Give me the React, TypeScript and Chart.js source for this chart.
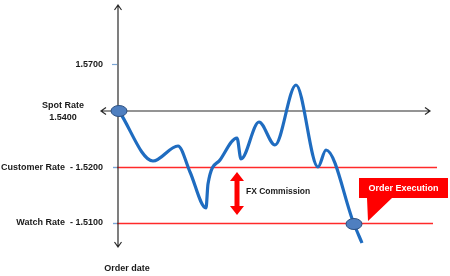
import React, { useEffect, useRef } from "react";
import { Chart, registerables } from "chart.js";
Chart.register(...registerables);

// Diagram units: x = time steps from order date, y = relative rate level
const timeSteps = [1, 35, 60, 72, 88, 90, 102, 119, 123, 141, 157, 178, 200, 208, 236, 244];
const rateLevels = [134, 84, 99, 73, 37, 61, 85, 107, 86, 123, 100, 160, 78, 95, 21, 2];

const tickLabels = ["1.5700", "Spot Rate|1.5400", "Customer Rate  - 1.5200", "Watch Rate  - 1.5100"];
const tickLevels = [181, 134, 77.5, 22.5];
const spotIndex = 0;
const executionIndex = 14;
const xAxisTitle = "Order date";
const commissionLabel = "FX Commission";
const executionLabel = "Order Execution";

const FONT = "'Liberation Sans', Arial, sans-serif";

const diagramPlugin = {
  id: "diagram",
  beforeDatasetsDraw(chart: any) {
    const { ctx } = chart;
    const xs = chart.scales.x;
    const ys = chart.scales.y;
    const x0 = xs.getPixelForValue(0);
    ctx.save();
    // red rate lines with short blue ticks
    const lineEnds = [319, 315];
    [2, 3].forEach((k, i) => {
      const y = Math.round(ys.getPixelForValue(tickLevels[k])) + 0.5;
      ctx.strokeStyle = "#ff2a2a";
      ctx.lineWidth = 1.4;
      ctx.beginPath();
      ctx.moveTo(x0 - 1, y);
      ctx.lineTo(xs.getPixelForValue(lineEnds[i]), y);
      ctx.stroke();
      ctx.strokeStyle = "#7aa6d6";
      ctx.beginPath();
      ctx.moveTo(xs.getPixelForValue(-5), y);
      ctx.lineTo(x0 - 1, y);
      ctx.stroke();
    });
    // 1.5700 tick
    {
      const y = Math.round(ys.getPixelForValue(tickLevels[0])) + 0.5;
      ctx.strokeStyle = "#7aa6d6";
      ctx.lineWidth = 1.2;
      ctx.beginPath();
      ctx.moveTo(xs.getPixelForValue(-6), y);
      ctx.lineTo(x0 - 1, y);
      ctx.stroke();
    }
    // axes
    ctx.strokeStyle = "#2a2a2a";
    ctx.lineWidth = 1.2;
    const yTop = ys.getPixelForValue(240);
    const yBot = ys.getPixelForValue(-2);
    const yh = ys.getPixelForValue(tickLevels[1]);
    const xL = xs.getPixelForValue(-17);
    const xR = xs.getPixelForValue(312);
    ctx.beginPath();
    ctx.moveTo(x0, yTop);
    ctx.lineTo(x0, yBot);
    ctx.moveTo(xL, yh);
    ctx.lineTo(xR, yh);
    // arrow heads (open chevrons)
    const a = 5, b = 3.5;
    ctx.moveTo(x0 - b, yTop + a); ctx.lineTo(x0, yTop); ctx.lineTo(x0 + b, yTop + a);
    ctx.moveTo(x0 - b, yBot - a); ctx.lineTo(x0, yBot); ctx.lineTo(x0 + b, yBot - a);
    ctx.moveTo(xL + a, yh - b); ctx.lineTo(xL, yh); ctx.lineTo(xL + a, yh + b);
    ctx.moveTo(xR - a, yh - b); ctx.lineTo(xR, yh); ctx.lineTo(xR - a, yh + b);
    ctx.stroke();
    ctx.restore();
  },
  afterDatasetsDraw(chart: any) {
    const { ctx } = chart;
    const xs = chart.scales.x;
    const ys = chart.scales.y;
    const x0 = xs.getPixelForValue(0);
    const meta = chart.getDatasetMeta(0);
    ctx.save();
    // ellipses at spot & execution
    [spotIndex, executionIndex].forEach((i) => {
      const p = meta.data[i];
      ctx.beginPath();
      ctx.ellipse(p.x, p.y, 8, 5.5, 0, 0, Math.PI * 2);
      ctx.fillStyle = "#4f7fc0";
      ctx.fill();
      ctx.strokeStyle = "#2d5080";
      ctx.lineWidth = 1;
      ctx.stroke();
    });
    // tick labels
    ctx.fillStyle = "#1a1a1a";
    ctx.textBaseline = "middle";
    ctx.font = `bold 9px ${FONT}`;
    tickLabels.forEach((lab, k) => {
      const y = ys.getPixelForValue(tickLevels[k]);
      if (lab.includes("|")) {
        const [l1, l2] = lab.split("|");
        ctx.textAlign = "center";
        ctx.fillText(l1, x0 - 55, y - 5);
        ctx.fillText(l2, x0 - 55, y + 7);
      } else {
        ctx.textAlign = "right";
        ctx.fillText(lab, x0 - 15, y + 0.5);
      }
    });
    ctx.textAlign = "center";
    ctx.fillText(xAxisTitle, x0 + 9, ys.getPixelForValue(-23.5));
    // FX commission double arrow
    const ax = xs.getPixelForValue(119);
    const aTop = ys.getPixelForValue(73);
    const aBot = ys.getPixelForValue(30);
    const hw = 7, hl = 9, sw = 2.5;
    ctx.fillStyle = "#ff0000";
    ctx.beginPath();
    ctx.moveTo(ax, aTop);
    ctx.lineTo(ax + hw, aTop + hl);
    ctx.lineTo(ax + sw, aTop + hl);
    ctx.lineTo(ax + sw, aBot - hl);
    ctx.lineTo(ax + hw, aBot - hl);
    ctx.lineTo(ax, aBot);
    ctx.lineTo(ax - hw, aBot - hl);
    ctx.lineTo(ax - sw, aBot - hl);
    ctx.lineTo(ax - sw, aTop + hl);
    ctx.lineTo(ax - hw, aTop + hl);
    ctx.closePath();
    ctx.fill();
    ctx.fillStyle = "#1a1a1a";
    ctx.textAlign = "left";
    ctx.font = `bold 8.5px ${FONT}`;
    ctx.fillText(commissionLabel, xs.getPixelForValue(128), ys.getPixelForValue(53));
    // Order execution callout
    const rL = xs.getPixelForValue(241);
    const rR = xs.getPixelForValue(330);
    const rT = ys.getPixelForValue(67);
    const rB = ys.getPixelForValue(47);
    ctx.fillStyle = "#ff0000";
    ctx.beginPath();
    ctx.moveTo(rL, rT);
    ctx.lineTo(rR, rT);
    ctx.lineTo(rR, rB);
    ctx.lineTo(xs.getPixelForValue(274), rB);
    ctx.lineTo(xs.getPixelForValue(250), ys.getPixelForValue(24));
    ctx.lineTo(xs.getPixelForValue(249), rB);
    ctx.lineTo(rL, rB);
    ctx.closePath();
    ctx.fill();
    ctx.fillStyle = "#ffffff";
    ctx.textAlign = "center";
    ctx.font = `bold 9px ${FONT}`;
    ctx.fillText(executionLabel, (rL + rR) / 2, (rT + rB) / 2 + 0.5);
    ctx.restore();
  },
};

export default function App() {
  const ref = useRef<HTMLCanvasElement>(null);
  useEffect(() => {
    if (!ref.current) return;
    const chart = new Chart(ref.current, {
      type: "line",
      data: {
        datasets: [
          {
            data: timeSteps.map((t, i) => ({ x: t, y: rateLevels[i] })),
            borderColor: "#1f6cc0",
            borderWidth: 3.2,
            pointRadius: 0,
            cubicInterpolationMode: "monotone",
            fill: false,
          },
        ],
      },
      options: {
        responsive: false,
        animation: false,
        layout: { padding: { left: 103, right: 13, top: 5, bottom: 31 } },
        plugins: { legend: { display: false }, tooltip: { enabled: false } },
        scales: {
          x: { type: "linear", min: -15, max: 319, display: false },
          y: { type: "linear", min: 0, max: 240, display: false },
        },
        clip: false as any,
      },
      plugins: [diagramPlugin],
    });
    return () => chart.destroy();
  }, []);
  return (
    <div style={{ position: "fixed", left: 0, top: 0, width: 450, height: 276, background: "#fff" }}>
      <canvas ref={ref} width={450} height={276} />
    </div>
  );
}
